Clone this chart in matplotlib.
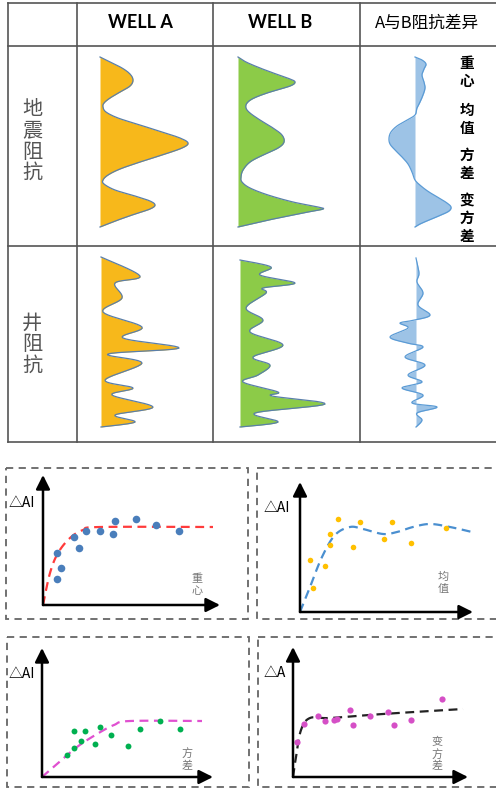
import numpy as np
import matplotlib.pyplot as plt
from matplotlib.patches import Rectangle

plt.rcParams['font.family'] = ['Noto Sans CJK SC', 'DejaVu Sans']

# ---- table text ----
col_titles = ['WELL A', 'WELL B', 'A与B阻抗差异']
row_titles = ['地震阻抗', '井阻抗']
attr_labels = ['重心', '均值', '方差', '变方差']

# ---- seismic impedance (depth px, amplitude px from baseline) ----
seis_a_y = [57, 62, 68, 74, 80, 86, 92, 98, 103, 107, 112, 118, 125, 132, 138, 143,
            148, 155, 162, 169, 175, 180, 184, 190, 196, 201, 205, 209, 214, 220, 227]
seis_a_x = [0, 10, 22, 30, 33, 30, 20, 10, 4, 3, 6, 18, 40, 62, 80, 88,
            82, 62, 40, 20, 8, 3, 4, 15, 35, 50, 55, 50, 35, 18, 0]
seis_b_y = [57, 62, 68, 74, 79, 82, 86, 92, 98, 103, 108, 113, 120, 128, 135, 142,
            148, 155, 162, 170, 177, 182, 188, 195, 202, 207, 209, 212, 218, 222, 227]
seis_b_x = [0, 8, 22, 38, 52, 57, 52, 32, 16, 9, 8, 12, 22, 35, 44, 46,
            40, 25, 12, 5, 3, 4, 12, 30, 55, 80, 85, 70, 40, 22, 0]
seis_d_y = [57, 60, 64, 69, 75, 82, 88, 95, 102, 108, 115, 120, 126, 132, 138, 144,
            150, 157, 164, 172, 180, 186, 192, 198, 203, 207, 211, 215, 220, 224, 227]
seis_d_x = [0, 7, 11, 9, 7, 9, 10, 8, 5, 2, 0, -8, -18, -24, -26, -25,
            -20, -13, -7, -3, 0, 6, 14, 24, 32, 36, 34, 26, 14, 5, 0]

# ---- well impedance ----
well_a_y = [257, 276, 283, 298, 312, 327, 338, 348, 354, 363, 380, 388, 395, 407, 415, 422, 427]
well_a_x = [0, 39, 14, 21, 2, 41, 22, 78, 7, 41, 4, 32, 11, 52, 14, 34, 0]
well_b_y = [260, 267, 275, 283, 288, 293, 308, 320, 332, 345, 357, 365, 375, 382, 392,
            396, 404, 413, 422, 427]
well_b_x = [0, 31, 20, 55, 23, 26, 6, 23, 10, 43, 13, 30, 18, 3, 38, 32, 85, 15, 38, 0]
well_d_y = [258, 273, 282, 293, 305, 315, 320, 323, 328, 337, 343, 347, 357, 365, 375,
            382, 388, 395, 403, 407, 413, 420, 427]
well_d_x = [0, 3, 1, 7, 2, 14, -1, -16, -8, -26, -9, 7, -11, 9, -8, 6, -14, 7, -4, 21, 1, 6, 0]

# ---- scatter panels (x, y relative to axis origin) ----
p1_x = [14, 18, 14, 36, 31, 43, 57, 70, 72, 93, 113, 136]
p1_y = [26, 37, 52, 57, 68, 74, 74, 71, 84, 86, 80, 74]
p1_fx = [0, 7, 15, 27, 40, 57, 170]
p1_fy = [0, 32, 52, 67, 75, 78, 78]

p2_x = [13, 10, 25, 30, 30, 38, 53, 60, 84, 92, 111, 146]
p2_y = [24, 52, 46, 67, 78, 93, 65, 90, 73, 90, 69, 84]
p2_fx = [0, 10, 22, 35, 50, 63, 83, 97, 113, 130, 150, 172]
p2_fy = [0, 25, 55, 77, 85, 83, 78, 80, 85, 88, 85, 80]

p3_x = [25, 32, 32, 39, 43, 53, 58, 69, 86, 98, 118, 138]
p3_y = [22, 29, 46, 36, 46, 33, 50, 42, 31, 48, 56, 48]
p3_fx = [0, 15, 35, 55, 72, 88, 160]
p3_fy = [0, 13, 30, 43, 52, 56, 56]

p4_x = [4, 11, 25, 32, 41, 44, 57, 60, 77, 95, 101, 118, 149]
p4_y = [35, 53, 61, 56, 57, 58, 67, 52, 61, 65, 52, 57, 78]
p4_fx = [0, 3, 8, 17, 37, 90, 170]
p4_fy = [0, 20, 47, 59, 59, 63, 68]


def smooth(x, y, n=10):
    # catmull-rom through the read points, only for a rounder drawn outline
    p = np.column_stack([x, y]).astype(float)
    p = np.vstack([p[0], p, p[-1]])
    out = []
    t = np.linspace(0, 1, n, endpoint=False)[:, None]
    for i in range(1, len(p) - 2):
        p0, p1, p2, p3 = p[i - 1], p[i], p[i + 1], p[i + 2]
        out.append(0.5 * (2 * p1 + (-p0 + p2) * t + (2 * p0 - 5 * p1 + 4 * p2 - p3) * t ** 2
                          + (-p0 + 3 * p1 - 3 * p2 + p3) * t ** 3))
    out.append(p[-2][None, :])
    out = np.vstack(out)
    return out[:, 0], out[:, 1]


W, H = 496, 790
fig = plt.figure(figsize=(W / 100, H / 100), dpi=100)
ax = fig.add_axes([0, 0, 1, 1])
ax.set_xlim(0, W)
ax.set_ylim(H, 0)
ax.axis('off')

# table grid
grid_c = '#555555'
for y in [3, 46, 246, 442]:
    ax.plot([8, W], [y, y], color=grid_c, lw=1.2)
for x in [8, 77, 213, 360]:
    ax.plot([x, x], [3, 442], color=grid_c, lw=1.2)

# headers
ax.text(140, 23, col_titles[0], ha='center', va='center', fontsize=13,
        fontweight='bold', family=['Lato', 'DejaVu Sans'])
ax.text(280, 23, col_titles[1], ha='center', va='center', fontsize=13,
        fontweight='bold', family=['Lato', 'DejaVu Sans'])
ax.text(427, 23, col_titles[2], ha='center', va='center', fontsize=12)

# row titles, written vertically
for lab, y0 in zip(row_titles, [109, 323]):
    for i, ch in enumerate(lab):
        ax.text(32, y0 + i * 21.5, ch, ha='center', va='center', fontsize=14.5,
                color='#555555')

# attribute labels next to the difference curve
for lab, y0 in zip(attr_labels, [63, 110, 155, 200]):
    for i, ch in enumerate(lab):
        ax.text(467, y0 + i * 17.8, ch, ha='center', va='center', fontsize=10.5,
                fontweight='bold', color='black')

# curves
orange, green, blue = '#F7B81B', '#8CCB48', '#9DC3E6'
edge = '#5A7FAA'
curves = [
    (seis_a_y, seis_a_x, 100, orange),
    (seis_b_y, seis_b_x, 238, green),
    (seis_d_y, seis_d_x, 415, blue),
    (well_a_y, well_a_x, 101, orange),
    (well_b_y, well_b_x, 240, green),
    (well_d_y, well_d_x, 416, blue),
]
for yy, xx, base, col in curves:
    sx, sy = smooth(np.array(xx) + base, yy)
    ax.fill_betweenx(sy, base, sx, color=col, lw=0)
    ax.plot(sx, sy, color=edge if col != blue else '#5B9BD5', lw=0.9)

# dashed frames
for (x0, y0, x1, y1) in [(6, 468, 248, 619), (257, 468, 505, 619),
                         (7, 637, 249, 787), (258, 637, 505, 787)]:
    ax.add_patch(Rectangle((x0, y0), x1 - x0, y1 - y0, fill=False,
                           ec='#666666', lw=1.3, ls=(0, (4, 3))))

# axis titles and x labels
for txt, x, y in [('△AI', 9, 503), ('△AI', 264, 508), ('△AI', 9, 674), ('△A', 264, 673)]:
    ax.text(x, y, txt, ha='left', va='center', fontsize=10)
for lab, x, y in [('重心', 197, 585), ('均值', 443, 583), ('方差', 187, 760), ('变方差', 437, 754)]:
    n = len(lab)
    for i, ch in enumerate(lab):
        ax.text(x, y + (i - (n - 1) / 2) * 12.5, ch, ha='center', va='center',
                fontsize=8, color='#777777')

panels = [
    ((43, 605, 177, 130), p1_x, p1_y, p1_fx, p1_fy, '#4A7EBB', '#FF3B3B', 30),
    ((300, 612, 173, 130), p2_x, p2_y, p2_fx, p2_fy, '#FFC000', '#4A8FD0', 16),
    ((42, 777, 171, 129), p3_x, p3_y, p3_fx, p3_fy, '#00B050', '#E050D0', 18),
    ((293, 777, 175, 130), p4_x, p4_y, p4_fx, p4_fy, '#D54FC6', '#222222', 20),
]
for (ox, oy, w, h), px, py, fx, fy, pc, lc, s in panels:
    pa = fig.add_axes([ox / W, (H - oy) / H, w / W, h / H])
    pa.set_xlim(0, w)
    pa.set_ylim(0, h)
    pa.patch.set_alpha(0)
    pa.axis('off')
    fxs, fys = smooth(fx, fy)
    pa.plot(fxs, fys, color=lc, lw=1.6, ls=(0, (4, 2.5)), clip_on=False)
    pa.scatter(px, py, s=s, color=pc, lw=0, clip_on=False, zorder=3)
    for tip in [(1, 0), (0, 1)]:
        pa.annotate('', xy=tip, xytext=(0, 0), xycoords='axes fraction',
                    arrowprops=dict(arrowstyle='-|>,head_length=0.6,head_width=0.3',
                                    mutation_scale=14, lw=1.8, color='black',
                                    shrinkA=0, shrinkB=0))

fig.savefig('out.png', dpi=100)
